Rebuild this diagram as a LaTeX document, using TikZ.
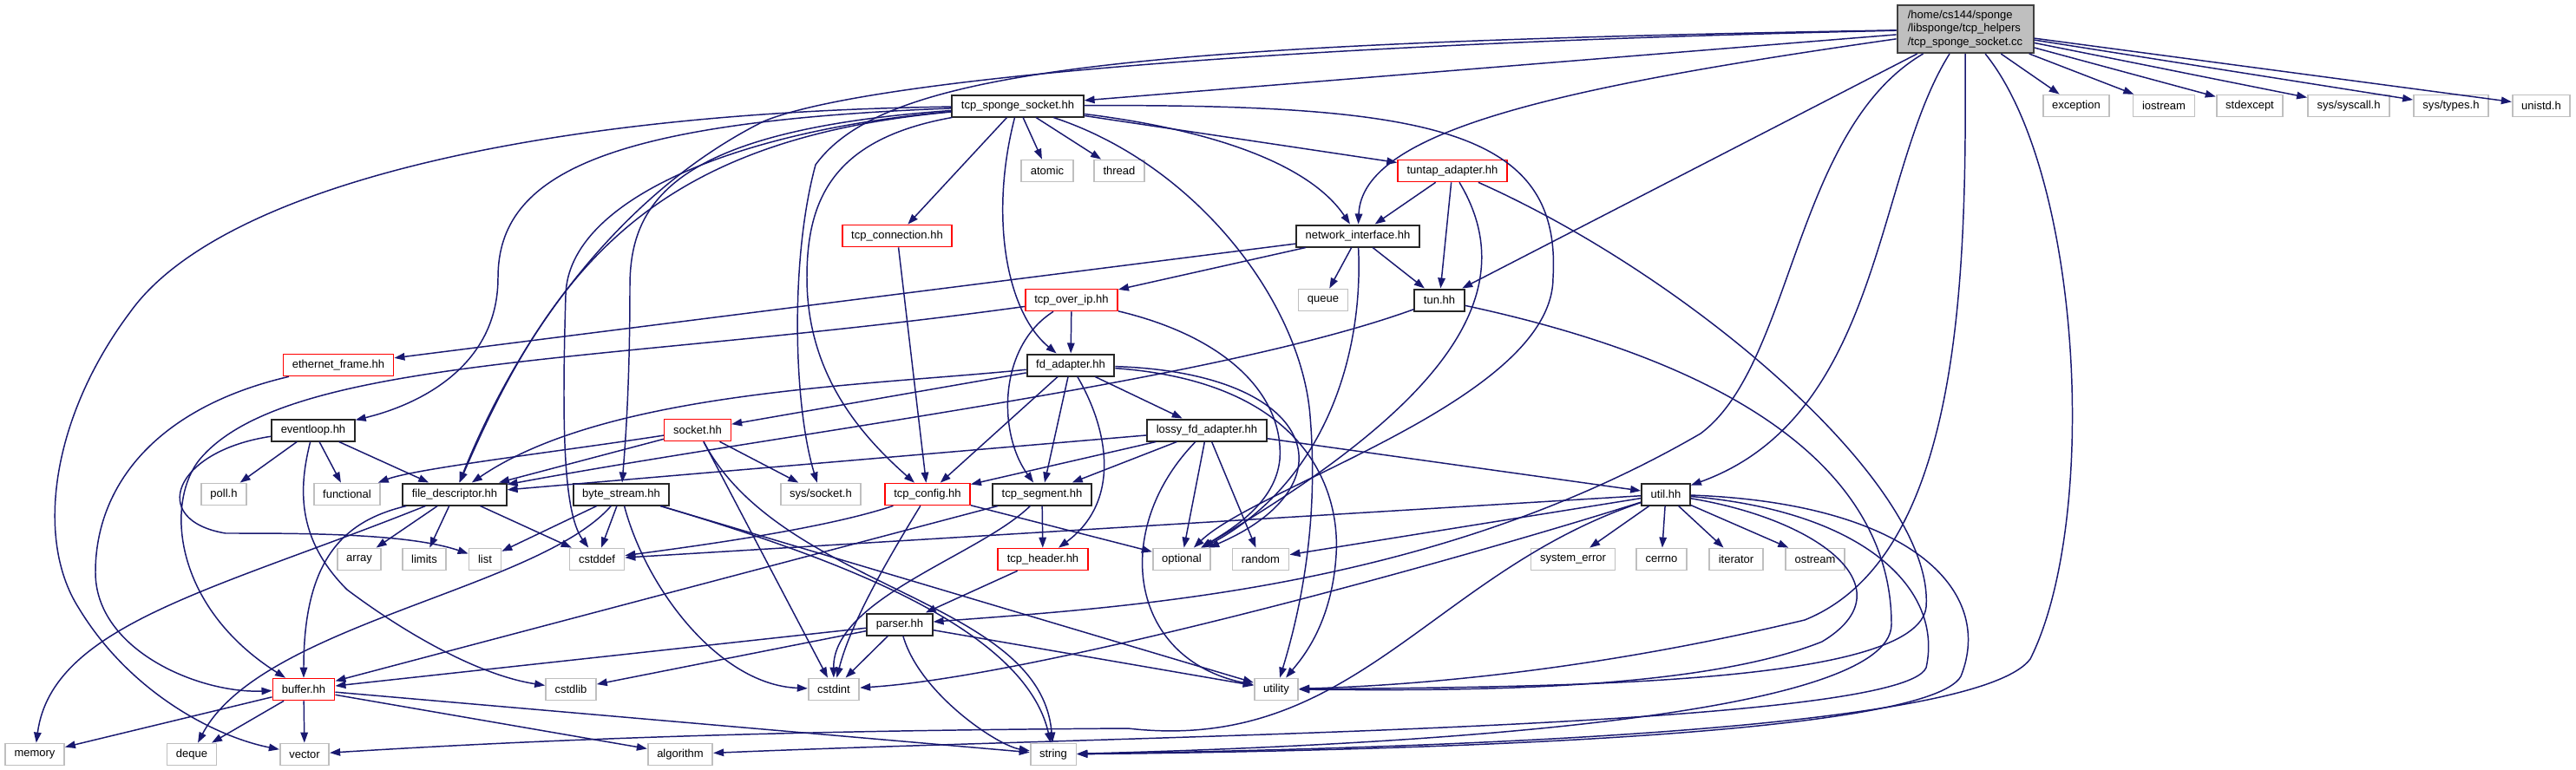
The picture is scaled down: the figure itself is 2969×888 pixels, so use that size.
\documentclass[tikz,border=0pt]{standalone}
\usepackage{fontspec}
\setmainfont{Liberation Sans}
\usepackage{tikz}
\usetikzlibrary{arrows.meta}
\definecolor{EdgeBlue}{RGB}{25,25,112}
\definecolor{LeafGray}{RGB}{191,191,191}
\definecolor{RootLine}{RGB}{64,64,64}

\begin{document}
\begin{tikzpicture}[x=0.1mm, y=-0.1mm,
            hdr/.style={draw=black!85, line width=0.2mm, fill=white,
                        inner xsep=1.05mm, inner ysep=0pt, minimum height=2.5mm,
                        font=\fontsize{3.7}{4.4}\selectfont},
            trunc/.style={hdr, draw=red, line width=0.16mm},
            stdhdr/.style={hdr, draw=LeafGray, line width=0.18mm},
            srcfile/.style={hdr, fill=LeafGray, draw=RootLine, align=left,
                            minimum width=15.7mm, minimum height=5.5mm},
            arr/.style={-{Triangle[length=1.2mm, width=0.85mm]}, draw=EdgeBlue, line width=0.42pt}
        ]
            \useasboundingbox (0,0) rectangle (2969,888);

            \node[srcfile] (root) at (2265,33.5) {/home/cs144/sponge\\/libsponge/tcp\_helpers\\/tcp\_sponge\_socket.cc};

            \node[hdr]    (tsock)      at (1173,122) {tcp\_sponge\_socket.hh};
            \node[stdhdr] (exception)  at (2393,122) {exception};
            \node[stdhdr] (iostream)   at (2494,122) {iostream};
            \node[stdhdr] (stdexcept)  at (2593,122) {stdexcept};
            \node[stdhdr] (syscall)    at (2707,122) {sys/syscall.h};
            \node[stdhdr] (systypes)   at (2825,122) {sys/types.h};
            \node[stdhdr] (unistd)     at (2929,122) {unistd.h};

            \node[stdhdr] (atomic)     at (1207,197) {atomic};
            \node[stdhdr] (thread)     at (1290,197) {thread};
            \node[trunc]  (tuntap)     at (1674,197) {tuntap\_adapter.hh};

            \node[trunc]  (tconn)      at (1034,272) {tcp\_connection.hh};
            \node[hdr]    (netif)      at (1565,272) {network\_interface.hh};

            \node[trunc]  (tovip)      at (1235,346) {tcp\_over\_ip.hh};
            \node[stdhdr] (queue)      at (1525,346) {queue};
            \node[hdr]    (tun)        at (1659,346) {tun.hh};

            \node[trunc]  (ethframe)   at (390,421)  {ethernet\_frame.hh};
            \node[hdr]    (fdadapt)    at (1234,421) {fd\_adapter.hh};

            \node[hdr]    (eventloop)  at (361,496)  {eventloop.hh};
            \node[trunc]  (socket)     at (804,496)  {socket.hh};
            \node[hdr]    (lossy)      at (1391,496) {lossy\_fd\_adapter.hh};

            \node[stdhdr] (poll)       at (258,570)  {poll.h};
            \node[stdhdr] (functional) at (400,570)  {functional};
            \node[hdr]    (filedesc)   at (524,570)  {file\_descriptor.hh};
            \node[hdr]    (bytestream) at (716,570)  {byte\_stream.hh};
            \node[stdhdr] (syssocket)  at (946,570)  {sys/socket.h};
            \node[trunc]  (tcpconfig)  at (1069,570) {tcp\_config.hh};
            \node[hdr]    (tcpseg)     at (1201,570) {tcp\_segment.hh};
            \node[hdr]    (util)       at (1920,570) {util.hh};

            \node[stdhdr] (array)      at (414,645)  {array};
            \node[stdhdr] (limits)     at (489,645)  {limits};
            \node[stdhdr] (list)       at (559,645)  {list};
            \node[stdhdr] (cstddef)    at (688,645)  {cstddef};
            \node[trunc]  (tcpheader)  at (1202,645) {tcp\_header.hh};
            \node[stdhdr] (optional)   at (1362,645) {optional};
            \node[stdhdr] (random)     at (1453,645) {random};
            \node[stdhdr] (syserror)   at (1813,645) {system\_error};
            \node[stdhdr] (cerrno)     at (1915,645) {cerrno};
            \node[stdhdr] (iterator)   at (2001,645) {iterator};
            \node[stdhdr] (ostream)    at (2092,645) {ostream};

            \node[hdr]    (parser)     at (1037,720) {parser.hh};

            \node[trunc]  (buffer)     at (350,795)  {buffer.hh};
            \node[stdhdr] (cstdlib)    at (658,795)  {cstdlib};
            \node[stdhdr] (cstdint)    at (961,795)  {cstdint};
            \node[stdhdr] (utility)    at (1471,795) {utility};

            \node[stdhdr] (memory)     at (40,870)   {memory};
            \node[stdhdr] (deque)      at (221,870)  {deque};
            \node[stdhdr] (vector)     at (351,870)  {vector};
            \node[stdhdr] (algorithm)  at (784,870)  {algorithm};
            \node[stdhdr] (string)     at (1214,870) {string};

            \draw[arr] (root) -- (tsock);
            \draw[arr] (root) -- (exception);
            \draw[arr] (root) -- (iostream);
            \draw[arr] (root) -- (stdexcept);
            \draw[arr] (root) -- (syscall);
            \draw[arr] (root) -- (systypes);
            \draw[arr] (root) -- (unistd);
            \draw[arr] (root) -- (tun);
            \draw[arr] (root) .. controls (1800,100) and (1570,150) .. (netif);
            \draw[arr] (root) .. controls (2160,200) and (2170,480) .. (util);
            \draw[arr] (root) .. controls (2067,150) and (2067,420) .. (1960,500) .. controls (1650,680) and (1300,700) .. (parser);
            \draw[arr] (root) .. controls (2266,300) and (2266,640) .. (2080,715) .. controls (1850,770) and (1650,790) .. (utility);
            \draw[arr] (root) .. controls (2400,200) and (2420,600) .. (2340,760) .. controls (2280,840) and (1700,862) .. (string);
            \draw[arr] (root) .. controls (1500,50) and (1000,90) .. (880,140) .. controls (720,220) and (600,380) .. (filedesc);
            \draw[arr] (root) .. controls (1300,50) and (1020,80) .. (940,190) .. controls (910,300) and (915,470) .. (syssocket);

            \draw[arr] (tsock) -- (tconn);
            \draw[arr] (tsock) -- (atomic);
            \draw[arr] (tsock) -- (thread);
            \draw[arr] (tsock) -- (tuntap);
            \draw[arr] (tsock) .. controls (1400,150) and (1510,190) .. (netif);
            \draw[arr] (tsock) .. controls (1140,250) and (1160,360) .. (fdadapt);
            \draw[arr] (tsock) .. controls (1650,120) and (1800,150) .. (1790,320) .. controls (1790,460) and (1450,560) .. (optional);
            \draw[arr] (tsock) .. controls (1380,190) and (1500,350) .. (1510,480) .. controls (1520,600) and (1500,700) .. (utility);
            \draw[arr] (tsock) .. controls (960,160) and (930,230) .. (930,320) .. controls (930,430) and (990,500) .. (tcpconfig);
            \draw[arr] (tsock) .. controls (850,150) and (655,230) .. (652,340) .. controls (648,480) and (648,590) .. (cstddef);
            \draw[arr] (tsock) .. controls (780,150) and (726,230) .. (726,330) .. controls (726,450) and (720,520) .. (bytestream);
            \draw[arr] (tsock) .. controls (700,140) and (574,200) .. (574,320) .. controls (574,430) and (470,470) .. (eventloop);
            \draw[arr] (tsock) .. controls (760,160) and (640,300) .. (filedesc);
            \draw[arr] (tsock) .. controls (600,130) and (250,220) .. (150,360) .. controls (60,480) and (40,620) .. (90,700) .. controls (150,800) and (250,850) .. (vector);

            \draw[arr] (tuntap) -- (netif);
            \draw[arr] (tuntap) -- (tun);
            \draw[arr] (tuntap) .. controls (1760,340) and (1660,470) .. (optional);
            \draw[arr] (tuntap) .. controls (1950,320) and (2230,560) .. (2220,700) .. controls (2210,790) and (1800,792) .. (utility);

            \draw[arr] (tconn) -- (tcpconfig);

            \draw[arr] (netif) -- (ethframe);
            \draw[arr] (netif) -- (tovip);
            \draw[arr] (netif) -- (queue);
            \draw[arr] (netif) -- (tun);
            \draw[arr] (netif) .. controls (1572,420) and (1520,560) .. (optional);

            \draw[arr] (tovip) -- (fdadapt);
            \draw[arr] (tovip) .. controls (1150,400) and (1150,500) .. (tcpseg);
            \draw[arr] (tovip) .. controls (1420,390) and (1480,460) .. (1475,530) .. controls (1470,580) and (1420,610) .. (optional);
            \draw[arr] (tovip) .. controls (700,420) and (330,410) .. (230,530) .. controls (190,580) and (200,700) .. (buffer);

            \draw[arr] (tun) .. controls (1400,440) and (900,500) .. (filedesc);
            \draw[arr] (tun) .. controls (2050,430) and (2180,570) .. (2180,720) .. controls (2180,830) and (1600,860) .. (string);

            \draw[arr] (ethframe) .. controls (180,470) and (110,560) .. (110,660) .. controls (110,750) and (230,800) .. (buffer);

            \draw[arr] (fdadapt) -- (socket);
            \draw[arr] (fdadapt) -- (lossy);
            \draw[arr] (fdadapt) -- (tcpconfig);
            \draw[arr] (fdadapt) -- (tcpseg);
            \draw[arr] (fdadapt) .. controls (1000,445) and (700,450) .. (filedesc);
            \draw[arr] (fdadapt) .. controls (1280,500) and (1290,580) .. (tcpheader);
            \draw[arr] (fdadapt) .. controls (1520,430) and (1560,560) .. (optional);
            \draw[arr] (fdadapt) .. controls (1500,440) and (1545,560) .. (1540,640) .. controls (1535,720) and (1500,760) .. (utility);

            \draw[arr] (eventloop) -- (poll);
            \draw[arr] (eventloop) -- (functional);
            \draw[arr] (eventloop) -- (filedesc);
            \draw[arr] (eventloop) .. controls (200,520) and (170,600) .. (260,615) .. controls (350,615) and (470,615) .. (list);
            \draw[arr] (eventloop) .. controls (345,560) and (340,620) .. (400,680) .. controls (480,740) and (560,780) .. (cstdlib);

            \draw[arr] (socket) -- (filedesc);
            \draw[arr] (socket) -- (syssocket);
            \draw[arr] (socket) -- (cstdint);
            \draw[arr] (socket) .. controls (650,520) and (480,540) .. (functional);
            \draw[arr] (socket) .. controls (900,680) and (1200,690) .. (string);

            \draw[arr] (filedesc) -- (array);
            \draw[arr] (filedesc) -- (limits);
            \draw[arr] (filedesc) -- (cstddef);
            \draw[arr] (filedesc) .. controls (400,600) and (350,640) .. (buffer);
            \draw[arr] (filedesc) .. controls (250,680) and (60,720) .. (memory);

            \draw[arr] (bytestream) -- (list);
            \draw[arr] (bytestream) -- (cstddef);
            \draw[arr] (bytestream) -- (utility);
            \draw[arr] (bytestream) .. controls (620,680) and (300,720) .. (deque);
            \draw[arr] (bytestream) .. controls (745,680) and (830,790) .. (cstdint);
            \draw[arr] (bytestream) .. controls (950,640) and (1180,720) .. (string);

            \draw[arr] (lossy) -- (filedesc);
            \draw[arr] (lossy) -- (tcpconfig);
            \draw[arr] (lossy) -- (tcpseg);
            \draw[arr] (lossy) -- (optional);
            \draw[arr] (lossy) -- (random);
            \draw[arr] (lossy) -- (util);
            \draw[arr] (lossy) .. controls (1280,610) and (1300,760) .. (utility);

            \draw[arr] (tcpconfig) -- (optional);
            \draw[arr] (tcpconfig) .. controls (950,610) and (800,630) .. (cstddef);
            \draw[arr] (tcpconfig) .. controls (1020,650) and (980,720) .. (cstdint);

            \draw[arr] (tcpseg) -- (tcpheader);
            \draw[arr] (tcpseg) -- (buffer);
            \draw[arr] (tcpseg) .. controls (1130,640) and (960,690) .. (cstdint);

            \draw[arr] (tcpheader) -- (parser);

            \draw[arr] (parser) -- (buffer);
            \draw[arr] (parser) -- (cstdlib);
            \draw[arr] (parser) -- (cstdint);
            \draw[arr] (parser) -- (utility);
            \draw[arr] (parser) .. controls (1060,800) and (1150,860) .. (string);

            \draw[arr] (util) -- (cstddef);
            \draw[arr] (util) -- (random);
            \draw[arr] (util) -- (syserror);
            \draw[arr] (util) -- (cerrno);
            \draw[arr] (util) -- (iterator);
            \draw[arr] (util) -- (ostream);
            \draw[arr] (util) .. controls (1700,640) and (1200,780) .. (cstdint);
            \draw[arr] (util) .. controls (1650,660) and (1560,870) .. (1300,840) .. controls (1000,842) and (700,848) .. (vector);
            \draw[arr] (util) .. controls (2150,590) and (2240,680) .. (2220,770) .. controls (2190,840) and (1300,848) .. (algorithm);
            \draw[arr] (util) .. controls (2200,580) and (2300,680) .. (2260,780) .. controls (2220,850) and (1600,866) .. (string);
            \draw[arr] (util) .. controls (2100,600) and (2200,680) .. (2100,740) .. controls (1950,800) and (1650,796) .. (utility);

            \draw[arr] (buffer) -- (memory);
            \draw[arr] (buffer) -- (deque);
            \draw[arr] (buffer) -- (vector);
            \draw[arr] (buffer) -- (algorithm);
            \draw[arr] (buffer) -- (string);

        \end{tikzpicture}
\end{document}
